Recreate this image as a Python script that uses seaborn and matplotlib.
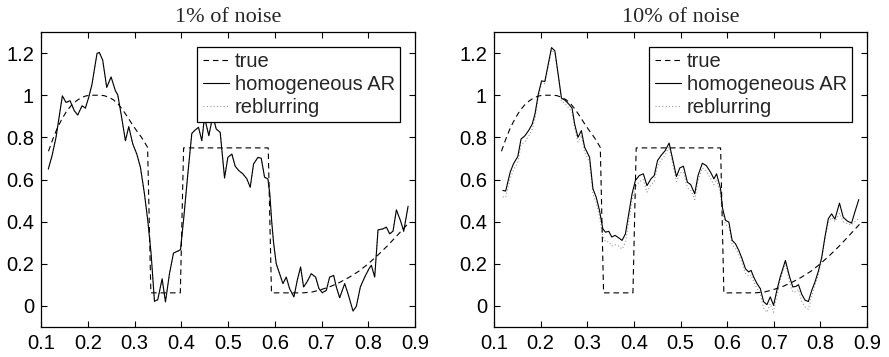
import numpy as np
import pandas as pd
import matplotlib
matplotlib.use("Agg")
import matplotlib.pyplot as plt
import seaborn as sns

# ---------------- data ----------------
titles = ["1% of noise", "10% of noise"]
series_names = ["true", "homogeneous AR", "reblurring"]

x_ticks = [0.1, 0.2, 0.3, 0.4, 0.5, 0.6, 0.7, 0.8, 0.9]
x_tick_labels = ["0.1", "0.2", "0.3", "0.4", "0.5", "0.6", "0.7", "0.8", "0.9"]
y_ticks = [0.0, 0.2, 0.4, 0.6, 0.8, 1.0, 1.2]
y_tick_labels = ["0", "0.2", "0.4", "0.6", "0.8", "1", "1.2"]

true_x = [0.116, 0.125, 0.135, 0.145, 0.155, 0.165, 0.175, 0.185, 0.195, 0.205,
          0.215, 0.225, 0.235, 0.245, 0.255, 0.265, 0.275, 0.285, 0.295, 0.305,
          0.315, 0.322, 0.328, 0.335, 0.398, 0.405, 0.586, 0.593, 0.66, 0.68,
          0.70, 0.72, 0.74, 0.76, 0.78, 0.80, 0.82, 0.84, 0.86, 0.885]
true_y = [0.734, 0.79, 0.845, 0.888, 0.925, 0.952, 0.972, 0.987, 0.996, 1.0,
          1.0, 1.0, 0.998, 0.99, 0.978, 0.958, 0.93, 0.897, 0.862, 0.83,
          0.80, 0.775, 0.752, 0.062, 0.062, 0.75, 0.75, 0.062, 0.062, 0.066,
          0.078, 0.093, 0.113, 0.137, 0.165, 0.20, 0.24, 0.283, 0.33, 0.39]

# 1% noise panel
left_x = [0.1157, 0.1236, 0.1321, 0.1457, 0.1535, 0.1621, 0.1714, 0.1785, 0.1878, 0.1949,
          0.2021, 0.2092, 0.2149, 0.2199, 0.2249, 0.2320, 0.2406, 0.2499, 0.2592, 0.2642,
          0.2713, 0.2806, 0.2877, 0.2963, 0.3049, 0.3127, 0.3213, 0.3284, 0.3355, 0.3427,
          0.3498, 0.3591, 0.3662, 0.3748, 0.3834, 0.3912, 0.3984, 0.4055, 0.4141, 0.4226,
          0.4283, 0.4369, 0.4440, 0.4497, 0.4590, 0.4676, 0.4747, 0.4833, 0.4926, 0.4997,
          0.5083, 0.5154, 0.5233, 0.5318, 0.5404, 0.5475, 0.5547, 0.5640, 0.5711, 0.5782,
          0.5854, 0.5895, 0.5935, 0.5975, 0.6032, 0.6104, 0.6175, 0.6246, 0.6318, 0.6410,
          0.6482, 0.6553, 0.6617, 0.6689, 0.6781, 0.6874, 0.6946, 0.7017, 0.7103, 0.7174,
          0.7260, 0.7317, 0.7389, 0.7496, 0.7567, 0.7674, 0.7745, 0.7831, 0.7924, 0.8017,
          0.8066, 0.8138, 0.8209, 0.8316, 0.8388, 0.8459, 0.8530, 0.8602, 0.8687, 0.8759,
          0.8852]
left_homog = [0.650, 0.713, 0.800, 0.997, 0.966, 0.974, 0.926, 0.906, 0.950, 0.939,
              0.990, 1.053, 1.132, 1.199, 1.203, 1.166, 1.037, 1.087, 1.021, 1.002,
              0.911, 0.784, 0.851, 0.769, 0.721, 0.658, 0.532, 0.406, 0.248, 0.022,
              0.030, 0.129, 0.019, 0.153, 0.251, 0.259, 0.267, 0.421, 0.627, 0.819,
              0.832, 0.848, 0.784, 0.895, 0.808, 0.903, 0.840, 0.824, 0.608, 0.705,
              0.721, 0.663, 0.642, 0.627, 0.603, 0.563, 0.674, 0.705, 0.701, 0.611,
              0.603, 0.530, 0.400, 0.300, 0.200, 0.153, 0.106, 0.137, 0.082, 0.043,
              0.122, 0.185, 0.090, 0.114, 0.153, 0.137, 0.082, 0.063, 0.074, 0.137,
              0.145, 0.090, 0.039, 0.106, 0.058, -0.024, -0.002, 0.090, 0.137, 0.177,
              0.193, 0.137, 0.361, 0.366, 0.374, 0.342, 0.355, 0.456, 0.406, 0.355,
              0.473]
# at 1% noise the reblurring curve lies under the homogeneous AR one
left_reblur = [0.648, 0.711, 0.798, 0.995, 0.964, 0.972, 0.924, 0.904, 0.948, 0.937,
               0.988, 1.051, 1.130, 1.197, 1.201, 1.164, 1.035, 1.085, 1.019, 1.000,
               0.909, 0.782, 0.849, 0.767, 0.719, 0.656, 0.530, 0.404, 0.246, 0.020,
               0.028, 0.127, 0.017, 0.151, 0.249, 0.257, 0.265, 0.419, 0.625, 0.817,
               0.830, 0.846, 0.782, 0.893, 0.806, 0.901, 0.838, 0.822, 0.606, 0.703,
               0.719, 0.661, 0.640, 0.625, 0.601, 0.561, 0.672, 0.703, 0.699, 0.609,
               0.601, 0.528, 0.398, 0.298, 0.198, 0.151, 0.104, 0.135, 0.080, 0.041,
               0.120, 0.183, 0.088, 0.112, 0.151, 0.135, 0.080, 0.061, 0.072, 0.135,
               0.143, 0.088, 0.037, 0.104, 0.056, -0.026, -0.004, 0.088, 0.135, 0.175,
               0.191, 0.135, 0.359, 0.364, 0.372, 0.340, 0.353, 0.454, 0.404, 0.353,
               0.471]

# 10% noise panel
right_x = [0.1190, 0.1250, 0.1346, 0.1417, 0.1510, 0.1580, 0.1665, 0.1750, 0.1820, 0.1879,
           0.1950, 0.2020, 0.2090, 0.2163, 0.2234, 0.2305, 0.2376, 0.2447, 0.2518, 0.2603,
           0.2674, 0.2730, 0.2800, 0.2874, 0.2944, 0.3050, 0.3122, 0.3192, 0.3263, 0.3334,
           0.3390, 0.3462, 0.3526, 0.3598, 0.3669, 0.3747, 0.3819, 0.3890, 0.3961, 0.4032,
           0.4117, 0.4203, 0.4281, 0.4366, 0.4437, 0.4508, 0.4579, 0.4671, 0.4756, 0.4913,
           0.4985, 0.5063, 0.5148, 0.5219, 0.5305, 0.5376, 0.5468, 0.5554, 0.5646, 0.5717,
           0.5774, 0.5859, 0.5900, 0.5966, 0.6037, 0.6108, 0.6179, 0.6250, 0.6321, 0.6392,
           0.6463, 0.6513, 0.6570, 0.6641, 0.6712, 0.6783, 0.6854, 0.6925, 0.6996, 0.7067,
           0.7138, 0.7250, 0.7337, 0.7409, 0.7480, 0.7530, 0.7601, 0.7672, 0.7743, 0.7815,
           0.7886, 0.7957, 0.8028, 0.8100, 0.8170, 0.8241, 0.8312, 0.8410, 0.8490, 0.8576,
           0.8668, 0.8739, 0.8824]
right_homog = [0.548, 0.545, 0.634, 0.674, 0.709, 0.792, 0.808, 0.835, 0.863, 0.911,
               1.005, 1.068, 1.065, 1.147, 1.226, 1.211, 1.100, 0.986, 0.977, 0.958,
               0.939, 0.863, 0.800, 0.832, 0.753, 0.705, 0.556, 0.516, 0.453, 0.366,
               0.350, 0.354, 0.327, 0.335, 0.324, 0.311, 0.342, 0.437, 0.532, 0.595,
               0.619, 0.627, 0.571, 0.603, 0.619, 0.690, 0.713, 0.737, 0.773, 0.614,
               0.655, 0.663, 0.587, 0.576, 0.532, 0.619, 0.677, 0.666, 0.634, 0.603,
               0.627, 0.556, 0.465, 0.406, 0.398, 0.311, 0.295, 0.264, 0.224, 0.177,
               0.161, 0.169, 0.137, 0.106, 0.082, 0.020, 0.006, 0.043, 0.003, 0.074,
               0.137, 0.216, 0.140, 0.090, 0.093, 0.101, 0.055, 0.027, 0.021, 0.074,
               0.115, 0.165, 0.230, 0.330, 0.414, 0.437, 0.412, 0.488, 0.421, 0.403,
               0.393, 0.445, 0.505]
right_reblur = [0.518, 0.515, 0.604, 0.645, 0.680, 0.765, 0.780, 0.808, 0.838, 0.888,
                0.990, 1.055, 1.055, 1.135, 1.215, 1.200, 1.090, 0.972, 0.962, 0.940,
                0.920, 0.843, 0.778, 0.810, 0.730, 0.680, 0.530, 0.490, 0.425, 0.330,
                0.305, 0.305, 0.285, 0.290, 0.285, 0.270, 0.300, 0.400, 0.500, 0.565,
                0.590, 0.600, 0.540, 0.575, 0.590, 0.665, 0.690, 0.715, 0.755, 0.590,
                0.630, 0.635, 0.560, 0.550, 0.505, 0.595, 0.655, 0.640, 0.605, 0.575,
                0.600, 0.530, 0.440, 0.385, 0.378, 0.290, 0.275, 0.243, 0.203, 0.155,
                0.140, 0.148, 0.115, 0.083, 0.055, -0.010, -0.030, 0.010, -0.030, 0.050,
                0.120, 0.205, 0.115, 0.065, 0.068, 0.078, 0.020, -0.005, -0.015, 0.045,
                0.100, 0.150, 0.218, 0.320, 0.395, 0.420, 0.400, 0.440, 0.400, 0.390,
                0.385, 0.400, 0.415]

# ---------------- drawing ----------------
sns.set_theme(style="ticks")
plt.rcParams["font.family"] = ["Liberation Sans", "DejaVu Sans"]

W, H = 889, 357
fig = plt.figure(figsize=(W / 100, H / 100), dpi=100)
ax_l = fig.add_axes([41 / W, 1 - 327 / H, 374 / W, 295 / H])
ax_r = fig.add_axes([494 / W, 1 - 327 / H, 373 / W, 295 / H])

LW = 0.8
FS = 14.5
panels = [
    (ax_l, titles[0], left_x, left_homog, left_reblur),
    (ax_r, titles[1], right_x, right_homog, right_reblur),
]

for ax, title, xs, homog, reblur in panels:
    df_true = pd.DataFrame({"x": true_x, "y": true_y})
    df_h = pd.DataFrame({"x": xs, "y": homog})
    df_r = pd.DataFrame({"x": xs, "y": reblur})

    sns.lineplot(data=df_r, x="x", y="y", ax=ax, color="#9a9a9a", lw=LW,
                 estimator=None, sort=False, zorder=1)
    sns.lineplot(data=df_h, x="x", y="y", ax=ax, color="black", lw=LW,
                 estimator=None, sort=False, zorder=3)
    sns.lineplot(data=df_true, x="x", y="y", ax=ax, color="black", lw=LW,
                 estimator=None, sort=False, zorder=2)

    lines = ax.get_lines()
    r_line, h_line, t_line = lines[0], lines[1], lines[2]
    r_line.set_linestyle((0, (1.0, 2.0)))
    t_line.set_linestyle((0, (5.0, 3.5)))

    ax.set_xlim(0.1, 0.9)
    ax.set_ylim(-0.1, 1.3)
    ax.set_xticks(x_ticks, x_tick_labels)
    ax.set_yticks(y_ticks, y_tick_labels)
    ax.set_xlabel("")
    ax.set_ylabel("")
    ax.tick_params(direction="in", top=True, right=True, length=4, width=0.8,
                   labelsize=FS, pad=5, colors="black")
    for sp in ax.spines.values():
        sp.set_visible(True)
        sp.set_linewidth(0.9)
        sp.set_color("black")
    ax.set_title(title, family=["Liberation Serif", "DejaVu Serif"], fontsize=16, pad=7)

    leg = ax.legend([t_line, h_line, r_line], series_names, loc="upper right",
                    fontsize=FS, frameon=True, fancybox=False, framealpha=1,
                    edgecolor="black", handlelength=1.3, handletextpad=0.3,
                    labelspacing=0.2, borderpad=0.25, borderaxespad=0.75)
    leg.get_frame().set_linewidth(0.9)
    leg.set_zorder(10)

fig.savefig("out.png", dpi=100)
